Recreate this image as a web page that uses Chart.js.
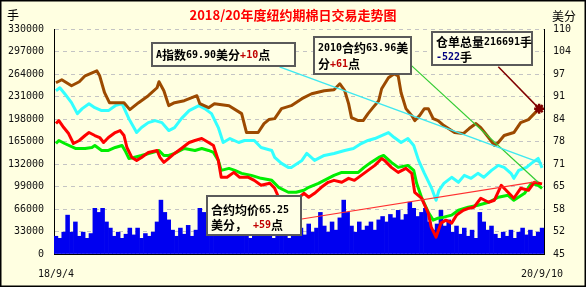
<!DOCTYPE html>
<html><head><meta charset="utf-8">
<script src="https://cdn.jsdelivr.net/npm/chart.js@4.4.0/dist/chart.umd.min.js"></script>
<style>html,body{margin:0;padding:0;background:#FFFFE1;}</style>
</head><body>
<canvas id="c" width="586" height="287"></canvas>
<script>
// ---------------- DATA ----------------
const xTickDays = [0, 500];
const xTickLabels = ['18/9/4', '20/9/10'];

// volume bars (left axis, 手), one bar every BAR_STEP trading days
const BAR_STEP = 4;
const volume = [26000,23000,32000,57000,32000,47000,26000,32000,23000,30000,
  67000,61000,67000,47000,38000,26000,32000,23000,29000,38000,
  28000,38000,23000,30000,26000,32000,47000,79000,61000,50000,
  35000,26000,38000,29000,42000,26000,35000,67000,61000,47000,
  35000,38000,29000,41000,32000,38000,28000,35000,26000,32000,
  23000,30000,26000,35000,26000,32000,23000,29000,26000,30000,
  23000,28000,26000,38000,28000,44000,32000,38000,61000,41000,
  32000,47000,35000,53000,79000,61000,41000,32000,47000,35000,
  41000,47000,35000,50000,55000,47000,58000,53000,64000,50000,
  58000,76000,67000,55000,61000,67000,47000,35000,44000,64000,
  41000,50000,32000,41000,29000,38000,26000,35000,23000,61000,
  47000,35000,41000,29000,23000,32000,26000,35000,23000,32000,
  38000,28000,35000,26000,32000,38000];

// 仓单总量 (left axis)
const receiptDays = [0,6,16,24,30,42,45,50,55,65,70,76,85,95,104,106,111,116,122,132,
  145,148,157,163,178,191,196,208,214,219,225,232,242,253,263,276,286,292,297,301,
  304,311,316,321,326,332,335,342,348,352,355,360,366,369,374,379,383,388,393,399,
  410,419,425,432,437,445,451,455,461,471,478,486,492,497,500];
const receipts = [251150,255530,246770,252610,261370,268670,261370,236550,221950,221950,
  221950,211730,221950,232170,243850,252610,239470,217570,221950,224870,
  232170,220490,214650,220490,217570,205890,178140,178140,191280,197120,
  198580,213190,217570,227790,235090,239470,240930,249690,239470,220490,
  200040,195660,195660,205890,214650,224870,242390,258450,264290,261370,
  236550,213190,202970,195660,202970,213190,213190,198580,195660,188360,
  178140,176680,183980,191280,185440,170840,159160,163540,173760,178140,
  192740,197120,205890,213190,216691];

// A指数 (right axis, 美分)
const indexDays = [0,4,9,16,22,27,34,40,47,54,61,68,75,83,88,95,102,109,116,122,
  129,137,147,153,160,167,172,179,188,194,204,211,222,225,232,239,242,253,258,266,
  276,286,297,306,314,321,328,335,342,348,355,362,368,373,379,386,391,394,399,407,
  414,420,427,434,440,448,455,461,468,471,476,484,489,496,500];
const aIndex = [92.17,93.03,91.31,88.72,85.55,86.99,88.43,87.28,86.42,86.42,
  87.85,88.43,84.11,80.09,81.53,82.96,83.54,82.96,80.66,81.53,
  84.11,86.42,87.85,86.99,85.55,81.53,77.21,78.36,77.21,77.79,
  77.79,75.77,74.91,72.90,71.17,70.02,70.02,72.04,74.05,72.04,
  73.47,74.05,74.91,75.49,76.92,77.79,78.36,79.23,80.09,78.65,
  77.21,78.36,76.35,72.04,68.30,64.27,60.53,63.41,65.42,67.15,
  65.71,67.72,66.86,68.30,67.15,69.16,70.60,70.02,68.30,66.86,
  69.16,70.02,71.17,72.61,69.90];

// 合约均价 (red, right axis)
const avgDays = [0,3,8,13,18,24,30,34,40,45,49,54,61,66,70,73,78,83,88,95,
  104,107,111,116,122,129,137,143,150,157,162,167,170,176,183,189,198,204,211,220,
  225,229,239,249,255,260,266,273,280,286,294,301,307,314,321,328,335,338,345,352,
  360,366,369,376,383,386,391,396,401,407,412,419,425,430,437,445,451,458,465,471,
  478,486,492,500];
const avgPrice = [82.68,83.54,81.53,79.80,76.92,77.79,79.23,80.09,79.23,78.65,
  77.21,78.65,80.09,80.66,79.23,75.77,72.90,72.04,72.90,74.34,
  74.91,72.90,71.46,72.61,74.05,75.49,77.21,77.79,78.36,77.21,
  76.35,72.04,67.15,67.15,68.58,67.15,67.15,66.28,64.85,65.42,
  63.98,61.39,60.53,61.10,62.54,61.39,62.54,64.27,65.71,66.28,
  65.71,66.86,66.28,67.72,69.16,70.60,72.61,72.04,70.02,68.58,
  69.73,68.30,62.83,61.11,56.79,52.77,49.89,53.92,54.78,53.92,
  56.22,57.65,58.23,58.52,61.11,59.96,60.53,64.85,62.83,61.11,
  63.98,63.41,65.71,65.25];

// 2010合约 (green, right axis)
const octDays = [0,3,9,20,30,37,40,47,54,61,68,71,75,80,88,99,106,111,116,122,
  132,143,150,157,162,167,170,178,184,191,201,211,222,229,239,247,255,260,270,280,
  286,294,301,311,317,324,332,337,345,352,362,368,371,376,383,388,393,399,407,414,
  424,434,445,455,465,471,482,489,496,500];
const octPrice = [76.92,77.79,76.92,75.49,75.49,75.77,76.35,74.91,74.91,75.77,
  76.35,74.91,72.61,72.90,73.47,74.34,74.91,73.47,73.47,74.05,
  75.49,74.91,75.49,74.91,74.34,72.04,69.16,69.73,69.16,68.30,
  67.72,66.86,66.28,64.27,62.83,62.83,63.41,64.27,65.42,66.86,
  67.72,68.58,68.58,68.58,70.02,71.46,72.90,73.47,71.46,70.02,
  70.60,69.16,65.42,61.39,57.08,54.78,55.35,55.64,56.22,57.65,
  58.52,59.09,59.96,61.39,61.97,60.53,62.54,65.42,64.85,63.96];

// callout pointer lines (start/end)
const indexLineDays = [230, 500], indexLineVals = [99.07, 71.17];
const octLineDays = [366, 496], octLineVals = [99.36, 65.71];
const avgLineDays = [248, 496], avgLineVals = [54.9, 66.0];
const receiptLineDays = [455, 497], receiptLineVals = [274500, 213190];

const titleText = '2018/20年度纽约期棉日交易走势图';
// ---------------- BUILD ----------------
const pts = (xs, ys) => xs.map((x, i) => ({x, y: ys[i]}));
const BG = '#FFFFE1';
const tickFont = {family: '"DejaVu Sans Mono", monospace', size: 10};
const CJK = '"Noto Sans CJK SC", "Noto Sans", sans-serif';
const ASCII_FONT = 'bold 10px "DejaVu Sans Mono", monospace';
const CJK_FONT = 'bold 12px ' + CJK;

const boxes = [
  {x: 152, y: 43, w: 143, h: 23, lines: [{y: 55, segs: [['A指数69.90美分', '#000'], ['+10', '#C00000'], ['点', '#000']]}]},
  {x: 314, y: 37, w: 97, h: 37, lines: [{y: 48, segs: [['2010合约63.96美', '#000']]}, {y: 64, segs: [['分', '#000'], ['+61', '#C00000'], ['点', '#000']]}]},
  {x: 432, y: 32, w: 100, h: 33, lines: [{y: 42, segs: [['仓单总量216691手', '#000']]}, {y: 57, segs: [['-522', '#000080'], ['手', '#000']]}]},
  {x: 207, y: 196, w: 94, h: 39, lines: [{y: 210, segs: [['合约均价65.25', '#000']]}, {y: 225, segs: [['美分，', '#000'], [' +59', '#C00000'], ['点', '#000']]}]}
];

function drawRun(c, text, x, y) {
  // draw ascii chars in a narrow mono font, CJK in Noto Sans CJK
  let cx = x;
  for (const ch of text) {
    c.font = ch.charCodeAt(0) < 128 ? ASCII_FONT : CJK_FONT;
    c.fillText(ch, cx, y);
    cx += c.measureText(ch).width;
  }
  return cx;
}

const deco = {
  id: 'deco',
  beforeDraw(chart) {
    const c = chart.ctx; c.save(); c.fillStyle = BG; c.fillRect(0, 0, chart.width, chart.height); c.restore();
  },
  afterDraw(chart) {
    const c = chart.ctx; c.save();
    c.textBaseline = 'middle';
    c.fillStyle = '#FF0000'; c.font = 'bold 13px ' + CJK; c.textAlign = 'center';
    c.fillText(titleText, 293, 15);
    c.fillStyle = '#000'; c.font = '12px ' + CJK; c.textAlign = 'left';
    c.fillText('手', 7, 15);
    c.fillText('美分', 552, 16);
    boxes.forEach(b => {
      c.fillStyle = '#FFFFE6'; c.fillRect(b.x, b.y, b.w, b.h);
      c.strokeStyle = '#5A5A5A'; c.lineWidth = 2; c.strokeRect(b.x, b.y, b.w, b.h);
      b.lines.forEach(l => {
        let cx = b.x + 4;
        l.segs.forEach(([t, col]) => { c.fillStyle = col; cx = drawRun(c, t, cx, l.y); });
      });
    });
    c.strokeStyle = '#000'; c.lineWidth = 1.5; c.strokeRect(0.75, 0.75, chart.width - 1.5, chart.height - 1.5);
    c.restore();
  }
};

const lineDs = (label, data, color, axis, order, width) => ({
  type: 'line', label, data, yAxisID: axis, borderColor: color, backgroundColor: color,
  borderWidth: width, pointRadius: 0, tension: 0, fill: false, order, borderJoinStyle: 'round'
});

const receiptLine = lineDs('仓单线', pts(receiptLineDays, receiptLineVals), '#800000', 'yL', 1, 1.5);
receiptLine.pointRadius = [0, 5];
receiptLine.pointStyle = 'star';
receiptLine.pointBorderColor = '#800000';
receiptLine.pointBorderWidth = 2.5;

new Chart(document.getElementById('c'), {
  data: {
    datasets: [
      receiptLine,
      lineDs('A指数线', pts(indexLineDays, indexLineVals), '#40E8F0', 'yR', 1, 1.5),
      lineDs('2010线', pts(octLineDays, octLineVals), '#33CC33', 'yR', 1, 1.2),
      lineDs('均价线', pts(avgLineDays, avgLineVals), '#FF3030', 'yR', 1, 1.2),
      lineDs('仓单总量', pts(receiptDays, receipts), '#9C4A00', 'yL', 2, 3),
      lineDs('A指数', pts(indexDays, aIndex), '#33FFFF', 'yR', 3, 3),
      lineDs('合约均价', pts(avgDays, avgPrice), '#FF0000', 'yR', 4, 3),
      lineDs('2010合约', pts(octDays, octPrice), '#00EE00', 'yR', 5, 3),
      {type: 'bar', label: '成交量', data: volume.map((v, i) => ({x: i * BAR_STEP, y: v})), yAxisID: 'yL',
       backgroundColor: '#0000F0', borderWidth: 0, barPercentage: 1, categoryPercentage: 1, order: 6}
    ]
  },
  options: {
    responsive: false, animation: false,
    layout: {padding: {top: 29, left: 0, right: 0, bottom: 0}},
    plugins: {legend: {display: false}, tooltip: {enabled: false}},
    scales: {
      x: {type: 'linear', min: -2, max: 502, offset: false,
          grid: {display: false}, border: {display: true, color: '#000', width: 1},
          afterBuildTicks(s) { s.ticks = xTickDays.map(v => ({value: v})); },
          ticks: {autoSkip: false, maxRotation: 0, padding: 6, font: tickFont, color: '#111',
                  callback: v => { const i = xTickDays.indexOf(v); return i >= 0 ? xTickLabels[i] : ''; }},
          afterFit(s) { s.height = 33; }},
      yL: {type: 'linear', position: 'left', min: 0, max: 330000,
           ticks: {stepSize: 33000, padding: 10, font: tickFont, color: '#111', callback: v => String(v)},
           grid: {color: '#C4C4C4', drawTicks: false, lineWidth: 1},
           border: {display: true, color: '#000', width: 1, dash: [4, 4]},
           afterFit(s) { s.width = 54; }},
      yR: {type: 'linear', position: 'right', min: 45, max: 110,
           ticks: {stepSize: 6.5, padding: 9, font: tickFont, color: '#111', callback: v => String(Math.round(v))},
           grid: {drawOnChartArea: false, drawTicks: false},
           border: {display: true, color: '#000', width: 1},
           afterFit(s) { s.width = 42; }}
    }
  },
  plugins: [deco]
});
</script>
</body></html>
